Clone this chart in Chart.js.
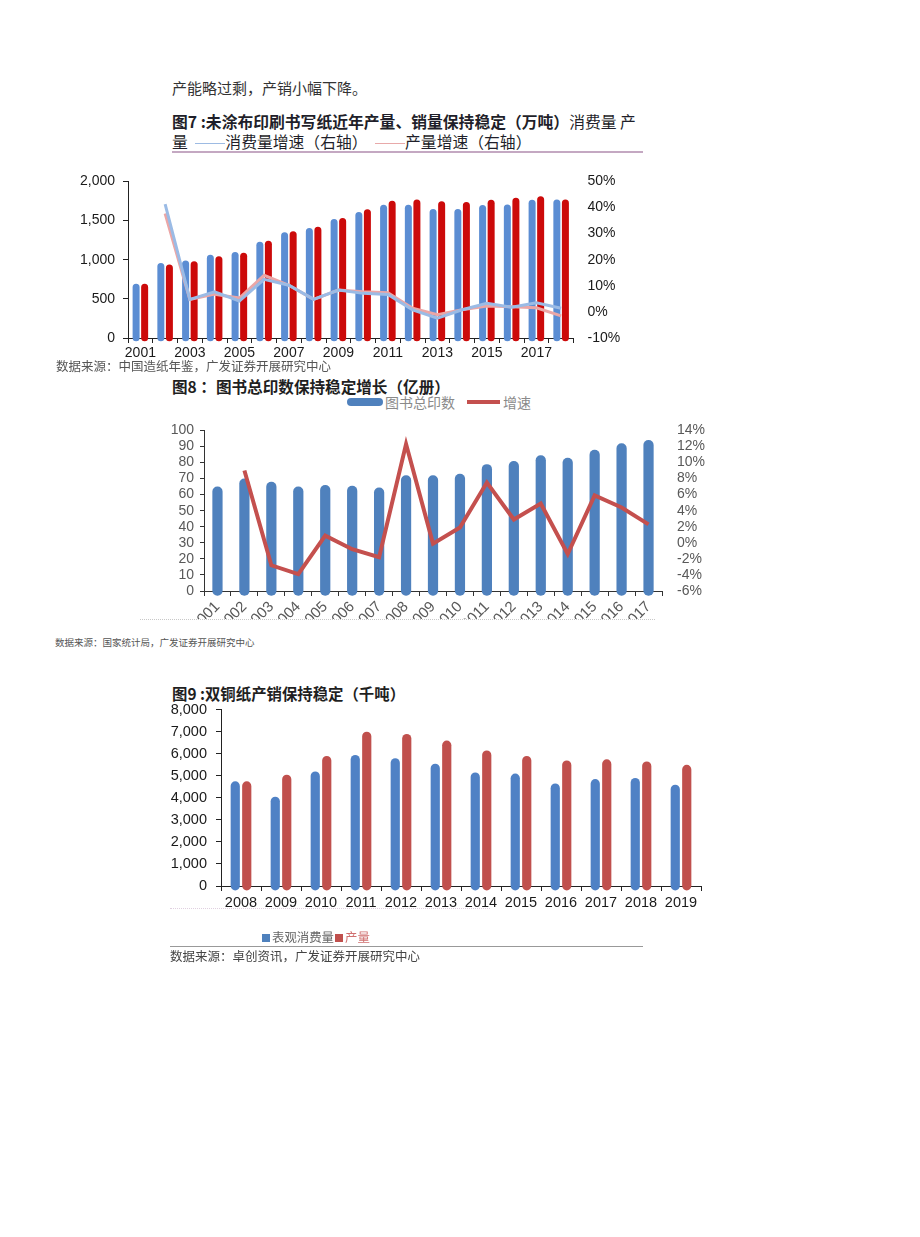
<!DOCTYPE html>
<html>
<head>
<meta charset="utf-8">
<script src="https://cdn.jsdelivr.net/npm/chart.js@4.4.0/dist/chart.umd.min.js"></script>
<style>
  body { margin: 0; background: #fff; width: 920px; height: 1237px; position: relative; font-family: "Noto Sans CJK SC", sans-serif; }
  .t { position: absolute; white-space: nowrap; }
  .box { position: absolute; }
  .dash { display: inline-block; width: 30px; border-top: 1px solid; vertical-align: middle; }
</style>
</head>
<body>

<div class="t" style="left:172px;top:78px;font-size:15px;line-height:20px;color:#333">产能略过剩，产销小幅下降。</div>

<!-- fig 7 -->
<div class="t" style="left:172px;top:112px;font-size:15.8px;line-height:20px;color:#1f1f2a">
  <b>图7 :未涂布印刷书写纸近年产量、销量保持稳定（万吨）</b>消费量 产<br>量 <span class="dash" style="border-color:#9dbbe3;margin-left:4px"></span>消费量增速（右轴） <span class="dash" style="border-color:#e8a9a9;margin-left:4px"></span>产量增速（右轴）
</div>
<div class="box" style="left:172px;top:151px;width:471px;height:2px;background:#c4a8c2"></div>
<canvas id="chart7" class="box" style="left:60px;top:165px" width="580" height="205"></canvas>
<div class="t" style="left:56px;top:358px;font-size:12.5px;line-height:16px;color:#555">数据来源：中国造纸年鉴，广发证券开展研究中心</div>

<!-- fig 8 -->
<div class="t" style="left:172px;top:376px;font-size:15.6px;line-height:20px;color:#1f1f1f"><b>图8 ：图书总印数保持稳定增长（亿册）</b></div>
<div class="box" style="left:347px;top:398px;width:36px;height:8px;border-radius:4px;background:#4f81bd"></div>
<div class="t" style="left:385px;top:393px;font-size:14px;line-height:18px;color:#8a8a8a">图书总印数</div>
<div class="box" style="left:467px;top:400px;width:33px;height:3.5px;background:#c4504e"></div>
<div class="t" style="left:503px;top:393px;font-size:14px;line-height:18px;color:#8a8a8a">增速</div>
<div class="box" style="left:150px;top:415px;width:570px;height:204px;overflow:hidden">
  <canvas id="chart8" width="570" height="243"></canvas>
</div>
<div class="box" style="left:140px;top:619px;width:515px;height:0;border-top:1px dotted #c8c8c8"></div>
<div class="t" style="left:55px;top:636px;font-size:9.5px;line-height:12px;color:#555">数据来源：国家统计局，广发证券开展研究中心</div>

<!-- fig 9 -->
<div class="t" style="left:172px;top:683px;font-size:15.4px;line-height:20px;color:#1f1f1f"><b>图9 :双铜纸产销保持稳定（千吨）</b></div>
<canvas id="chart9" class="box" style="left:160px;top:692px" width="560" height="226"></canvas>
<div class="box" style="left:170px;top:908px;width:320px;height:0;border-top:1px dotted #e0d0e0"></div>
<div class="box" style="left:262px;top:934px;width:8px;height:8px;background:#4f81bd"></div>
<div class="t" style="left:272px;top:930px;font-size:12.4px;line-height:15px;color:#666">表观消费量</div>
<div class="box" style="left:335px;top:934px;width:8px;height:8px;background:#c0504d"></div>
<div class="t" style="left:345px;top:930px;font-size:12.4px;line-height:15px;color:#d07070">产量</div>
<div class="box" style="left:170px;top:946px;width:473px;height:1px;background:#999"></div>
<div class="t" style="left:170px;top:948px;font-size:12.5px;line-height:16px;color:#444">数据来源：卓创资讯，广发证券开展研究中心</div>

<script>
// fig 7: 未涂布印刷书写纸 (万吨, %)
var years7 = ['2001','2002','2003','2004','2005','2006','2007','2008','2009','2010','2011','2012','2013','2014','2015','2016','2017','2018'];
var consumption7 = [694,957,991,1064,1098,1230,1349,1404,1519,1609,1702,1702,1647,1647,1698,1706,1766,1770];
var production7  = [694,940,979,1043,1089,1243,1362,1421,1532,1643,1753,1770,1745,1736,1766,1791,1809,1770];
var consGrowth7  = [null,41.3,4.8,7.7,4.2,12.5,10.2,4.8,8.4,7.1,6.7,0.8,-2.4,0.8,3.3,1.8,3.5,1.4];
var prodGrowth7  = [null,37.7,4.8,6.8,5.3,14.0,10.2,4.8,8.4,7.7,7.3,1.4,-1.1,0.8,2.3,2.0,1.6,-1.5];

// fig 8: 图书总印数 (亿册, %)
var years8 = ['2001','2002','2003','2004','2005','2006','2007','2008','2009','2010','2011','2012','2013','2014','2015','2016','2017'];
var books8 = [65,70,68,65,66,65.5,64.5,72,72,73,79,81,84.5,83,88,92,94];
var growth8 = [null,9.0,-2.8,-3.9,0.9,-0.8,-1.8,12.3,-0.1,1.9,7.5,2.9,4.9,-1.4,5.9,4.4,2.3];

// fig 9: 双铜纸 (千吨)
var years9 = ['2008','2009','2010','2011','2012','2013','2014','2015','2016','2017','2018','2019'];
var consumption9 = [4750,4050,5200,5950,5800,5550,5150,5100,4650,4850,4900,4600];
var production9  = [4750,5050,5900,7000,6900,6600,6150,5900,5700,5750,5650,5500];

var sans = '"Liberation Sans", Arial, sans-serif';
var narrow = '"Liberation Sans Narrow", "Liberation Sans", Arial, sans-serif';

function fixW(w) { return function (s) { s.width = w; }; }
function fixH(h) { return function (s) { s.height = h; }; }

// ---------- fig 7 ----------
new Chart(document.getElementById('chart7'), {
  type: 'bar',
  data: {
    labels: years7,
    datasets: [
      { type: 'line', label: '消费量增速（右轴）', data: consGrowth7, yAxisID: 'y1',
        borderColor: '#9bbbe5', borderWidth: 3, pointRadius: 0, tension: 0, order: 0 },
      { type: 'line', label: '产量增速（右轴）', data: prodGrowth7, yAxisID: 'y1',
        borderColor: '#eba6a6', borderWidth: 3, pointRadius: 0, tension: 0, order: 0 },
      { label: '消费量', data: consumption7, backgroundColor: '#5b8dd3', base: -40, clip: 8,
        borderRadius: 4, borderSkipped: false, barPercentage: 0.82, categoryPercentage: 0.69, order: 1 },
      { label: '产量', data: production7, backgroundColor: '#cc0a0a', base: -40, clip: 8,
        borderRadius: 4, borderSkipped: false, barPercentage: 0.82, categoryPercentage: 0.69, order: 1 }
    ]
  },
  options: {
    responsive: false,
    animation: false,
    layout: { padding: { top: 12, bottom: 0, left: 0, right: 0 } },
    plugins: { legend: { display: false }, tooltip: { enabled: false } },
    scales: {
      x: {
        z: 1,
        afterFit: fixH(32),
        grid: { drawOnChartArea: false, drawTicks: true, tickLength: 5, color: '#222' },
        border: { display: true, color: '#222' },
        ticks: {
          autoSkip: false, maxRotation: 0, padding: 2, color: '#1a1a1a', font: { family: sans, size: 14 },
          callback: function (v, i) { return i % 2 === 0 ? this.getLabelForValue(v) : ''; }
        }
      },
      y: {
        position: 'left', min: 0, max: 2000,
        afterFit: fixW(68),
        grid: { drawOnChartArea: false, drawTicks: true, tickLength: 5, color: '#222' },
        border: { display: true, color: '#222' },
        ticks: { stepSize: 500, padding: 8, color: '#1a1a1a', font: { family: sans, size: 14 } }
      },
      y1: {
        position: 'right', min: -10, max: 50,
        afterFit: fixW(66.5),
        grid: { display: false },
        border: { display: false },
        ticks: { stepSize: 10, padding: 6, color: '#1a1a1a', font: { family: sans, size: 14 },
          callback: function (v) { return v + '%'; } }
      }
    }
  }
});

// ---------- fig 8 ----------
new Chart(document.getElementById('chart8'), {
  type: 'bar',
  data: {
    labels: years8,
    datasets: [
      { type: 'line', label: '增速', data: growth8, yAxisID: 'y1',
        borderColor: '#c4504e', borderWidth: 4, pointRadius: 0, tension: 0, order: 0 },
      { label: '图书总印数', data: books8, backgroundColor: '#4f81bd', base: -3, clip: 8,
        borderRadius: 5, borderSkipped: false, barPercentage: 0.38, categoryPercentage: 1, order: 1 }
    ]
  },
  options: {
    responsive: false,
    animation: false,
    layout: { padding: { top: 12, bottom: 0, left: 0, right: 0 } },
    plugins: { legend: { display: false }, tooltip: { enabled: false } },
    scales: {
      x: {
        z: 1,
        afterFit: fixH(67),
        grid: { drawOnChartArea: false, drawTicks: true, tickLength: 5, color: '#333' },
        border: { display: true, color: '#333' },
        ticks: { autoSkip: false, minRotation: 45, maxRotation: 45, padding: 2, color: '#595959',
          font: { family: narrow, size: 15 } }
      },
      y: {
        position: 'left', min: 0, max: 100,
        afterFit: fixW(54),
        grid: { drawOnChartArea: false, drawTicks: true, tickLength: 4, color: '#333' },
        border: { display: true, color: '#333' },
        ticks: { stepSize: 10, autoSkip: false, padding: 6, color: '#595959', font: { family: narrow, size: 14 } }
      },
      y1: {
        position: 'right', min: -6, max: 14,
        afterFit: fixW(58),
        grid: { display: false },
        border: { display: false },
        ticks: { stepSize: 2, autoSkip: false, padding: 7, color: '#595959', font: { family: narrow, size: 14 },
          callback: function (v) { return v + '%'; } }
      }
    }
  }
});

// ---------- fig 9 ----------
new Chart(document.getElementById('chart9'), {
  type: 'bar',
  data: {
    labels: years9,
    datasets: [
      { label: '表观消费量', data: consumption9, backgroundColor: '#4f81c5', base: -200, clip: 8,
        borderRadius: 5, borderSkipped: false, barPercentage: 0.8, categoryPercentage: 0.575 },
      { label: '产量', data: production9, backgroundColor: '#c0504d', base: -200, clip: 8,
        borderRadius: 5, borderSkipped: false, barPercentage: 0.8, categoryPercentage: 0.575 }
    ]
  },
  options: {
    responsive: false,
    animation: false,
    layout: { padding: { top: 12, bottom: 0, left: 0, right: 19 } },
    plugins: { legend: { display: false }, tooltip: { enabled: false } },
    scales: {
      x: {
        z: 1,
        afterFit: fixH(32),
        grid: { drawOnChartArea: false, drawTicks: true, tickLength: 5, color: '#222' },
        border: { display: true, color: '#222' },
        ticks: { autoSkip: false, maxRotation: 0, padding: 3, color: '#1a1a1a', font: { family: sans, size: 14.5 } }
      },
      y: {
        min: 0, max: 8000,
        afterFit: fixW(61),
        grid: { drawOnChartArea: false, drawTicks: true, tickLength: 5, color: '#222' },
        border: { display: true, color: '#222' },
        ticks: { stepSize: 1000, padding: 9, color: '#1a1a1a', font: { family: sans, size: 14.5 } }
      }
    }
  }
});
</script>
</body>
</html>
